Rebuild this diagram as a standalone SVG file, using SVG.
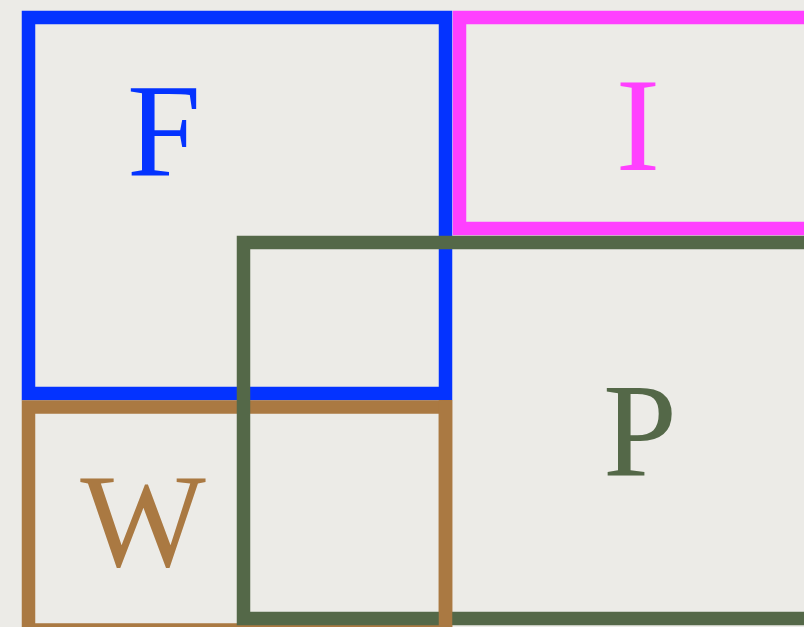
<svg xmlns="http://www.w3.org/2000/svg" width="804" height="627" viewBox="0 0 804 627">
<style>
.box{fill:none;stroke-width:13.5}
.lbl{font-family:"Liberation Serif","Times New Roman",serif;font-size:133px;text-anchor:middle}
</style>
<rect x="0" y="0" width="804" height="627" fill="#ECEBE7"/>
<g id="F">
<rect class="box" x="28.5" y="17.5" width="417" height="376" stroke="#0433FF"/>
<text class="lbl" x="164" y="176" fill="#0433FF">F</text>
</g>
<g id="I">
<rect class="box" x="459.5" y="17.5" width="400" height="211" stroke="#FF40FF"/>
<text class="lbl" x="638" y="170" fill="#FF40FF">I</text>
</g>
<g id="W">
<rect class="box" x="28.5" y="407" width="417" height="223" stroke="#AA7942"/>
<text class="lbl" x="143" y="566" fill="#AA7942">W</text>
</g>
<g id="P">
<rect class="box" x="243.5" y="242.5" width="600" height="376" stroke="#546848"/>
<text class="lbl" x="640" y="475" fill="#546848">P</text>
</g>
<g id="W-right-edge">
<line x1="445.5" y1="400" x2="445.5" y2="627" stroke="#AA7942" stroke-width="13.5"/>
</g>
<g id="connectors"/>
</svg>
